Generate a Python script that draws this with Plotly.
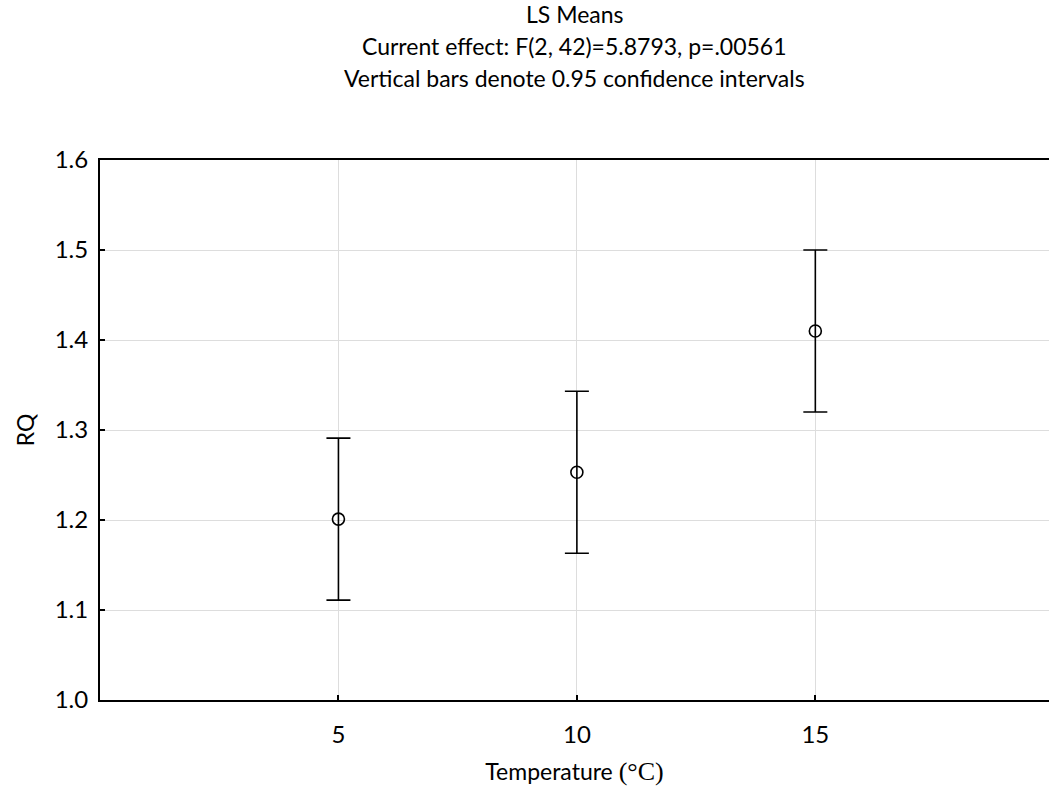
import plotly.graph_objects as go

temperature = [5, 10, 15]
rq_mean = [1.201, 1.253, 1.410]
ci_upper = [1.291, 1.343, 1.500]
ci_lower = [1.111, 1.163, 1.320]

title_lines = [
    "LS Means",
    "Current effect: F(2, 42)=5.8793, p=.00561",
    "Vertical bars denote 0.95 confidence intervals",
]
y_ticks = [1.0, 1.1, 1.2, 1.3, 1.4, 1.5, 1.6]
x_ticks = [5, 10, 15]

FONT = "Lato, 'Open Sans', sans-serif"

err_plus = [u - m for u, m in zip(ci_upper, rq_mean)]
err_minus = [m - l for m, l in zip(rq_mean, ci_lower)]

fig = go.Figure()
fig.add_trace(go.Scatter(
    x=temperature, y=rq_mean, mode="markers",
    marker=dict(symbol="circle-open", size=12, color="black", line=dict(width=1.6, color="black")),
    error_y=dict(type="data", symmetric=False, array=err_plus, arrayminus=err_minus,
                 color="black", thickness=1.6, width=12),
    showlegend=False,
))

title_y = [1.2704, 1.2111, 1.1519]
for txt, yy in zip(title_lines, title_y):
    fig.add_annotation(text=txt, xref="paper", yref="paper", x=0.5, y=yy,
                       xanchor="center", yanchor="middle", showarrow=False,
                       font=dict(family=FONT, size=23, color="black"))

fig.update_layout(
    width=1049, height=809,
    margin=dict(l=100, r=0, t=160, b=109),
    plot_bgcolor="white", paper_bgcolor="white",
    font=dict(family=FONT, size=24, color="black"),
    xaxis=dict(
        range=[0, 19.9], tickvals=x_ticks, ticktext=[str(v) for v in x_ticks],
        showgrid=True, gridcolor="#dddddd", gridwidth=1,
        showline=True, linecolor="black", linewidth=2, mirror=True,
        ticks="inside", ticklen=5, tickcolor="black", tickwidth=1.5,
        ticklabelstandoff=12,
        zeroline=False,
        title=dict(text="Temperature <span style=\"font-family:'Liberation Serif', serif; font-size:26px\">(°C)</span>",
                   font=dict(family=FONT, size=23), standoff=17),
    ),
    yaxis=dict(
        range=[1.0, 1.6], tickvals=y_ticks, ticktext=[f"{v:.1f}" for v in y_ticks],
        showgrid=True, gridcolor="#dddddd", gridwidth=1,
        showline=True, linecolor="black", linewidth=2, mirror=False,
        ticks="inside", ticklen=5, tickcolor="black", tickwidth=1.5,
        ticklabelstandoff=5,
        zeroline=False,
        title=dict(text="RQ", font=dict(family=FONT, size=23), standoff=14),
    ),
)

fig.write_html("out.html")
